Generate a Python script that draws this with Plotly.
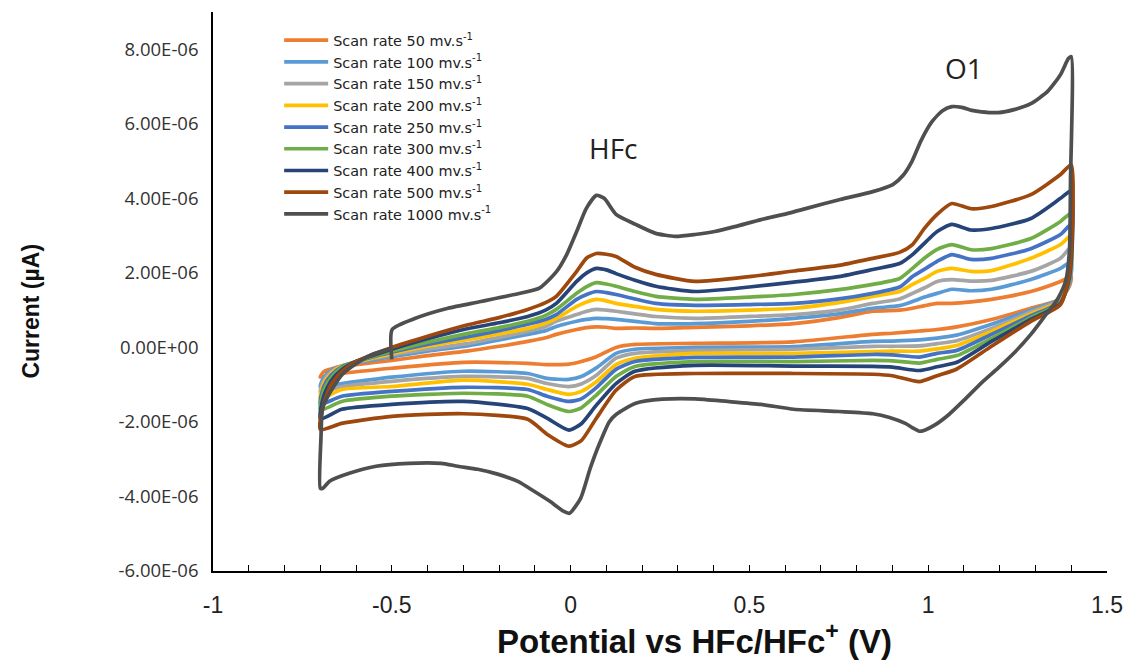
import numpy as np
import plotly.graph_objects as go

SCALE = 1e-6  # currents below are listed in units of 1e-6

# ---- scan labels and colours -------------------------------------------
RATES = [50, 100, 150, 200, 250, 300, 400, 500]
COLORS = ["#ED7D31", "#5B9BD5", "#A5A5A5", "#FFC000", "#4472C4",
          "#70AD47", "#264478", "#9E480E"]
COLOR_1000 = "#4F4F4F"

# ---- forward (anodic) sweep, -0.7 V -> 1.4 V ----------------------------
E_FWD = [-0.7, -0.69, -0.67, -0.64, -0.6, -0.5, -0.4, -0.29, -0.2, -0.12,
         -0.07, -0.04, 0.017, 0.045, 0.072, 0.1, 0.127, 0.18, 0.238, 0.348,
         0.5, 0.624, 0.75, 0.845, 0.92, 0.956, 0.99, 1.025, 1.066, 1.12,
         1.177, 1.287, 1.37, 1.4]

I_FWD_50 = [-0.8, -0.65, -0.58, -0.5, -0.46, -0.35, -0.22, -0.1, 0.03, 0.16,
            0.26, 0.35, 0.48, 0.53, 0.55, 0.54, 0.51, 0.52, 0.51, 0.54,
            0.58, 0.64, 0.8, 0.97, 1.0, 1.05, 1.12, 1.18, 1.18, 1.22,
            1.29, 1.5, 1.77, 1.9]
I_FWD_100 = [-1.05, -0.8, -0.62, -0.5, -0.42, -0.25, -0.1, 0.04, 0.2, 0.35,
             0.45, 0.56, 0.70, 0.75, 0.78, 0.77, 0.75, 0.7, 0.64, 0.64,
             0.7, 0.78, 0.9, 1.05, 1.12, 1.23, 1.35, 1.45, 1.56, 1.52,
             1.56, 1.82, 2.12, 2.3]
I_FWD_150 = [-1.2, -0.9, -0.66, -0.5, -0.4, -0.2, -0.05, 0.1, 0.27, 0.43,
             0.56, 0.70, 0.88, 0.97, 1.02, 1.0, 0.97, 0.9, 0.83, 0.78,
             0.83, 0.88, 1.0, 1.18, 1.3, 1.45, 1.6, 1.77, 1.82, 1.78,
             1.80, 2.04, 2.39, 2.7]
I_FWD_200 = [-1.38, -0.95, -0.7, -0.5, -0.39, -0.17, 0.03, 0.21, 0.36, 0.51,
             0.65, 0.78, 1.10, 1.22, 1.29, 1.25, 1.18, 1.1, 1.02, 0.97,
             1.0, 1.05, 1.2, 1.37, 1.5, 1.69, 1.85, 2.04, 2.12, 2.04,
             2.06, 2.39, 2.76, 3.0]
I_FWD_250 = [-1.52, -1.05, -0.75, -0.52, -0.38, -0.13, 0.08, 0.28, 0.45, 0.62,
             0.75, 0.88, 1.29, 1.42, 1.50, 1.47, 1.42, 1.3, 1.18, 1.13,
             1.15, 1.18, 1.3, 1.45, 1.62, 1.90, 2.1, 2.31, 2.49, 2.36,
             2.39, 2.65, 3.03, 3.3]
I_FWD_300 = [-1.68, -1.15, -0.82, -0.55, -0.38, -0.1, 0.14, 0.37, 0.53, 0.70,
             0.86, 1.02, 1.45, 1.63, 1.74, 1.7, 1.64, 1.5, 1.37, 1.29,
             1.35, 1.42, 1.55, 1.69, 1.85, 2.12, 2.4, 2.63, 2.76, 2.62,
             2.65, 2.92, 3.38, 3.6]
I_FWD_400 = [-1.92, -1.3, -0.9, -0.6, -0.38, -0.05, 0.23, 0.5, 0.66, 0.83,
             1.0, 1.18, 1.77, 2.0, 2.12, 2.08, 1.98, 1.8, 1.64, 1.50,
             1.62, 1.75, 1.9, 2.09, 2.25, 2.49, 2.8, 3.11, 3.30, 3.15,
             3.19, 3.46, 4.0, 4.2]
I_FWD_500 = [-2.2, -1.5, -1.0, -0.65, -0.38, 0.0, 0.3, 0.6, 0.8, 1.02,
             1.2, 1.37, 2.04, 2.4, 2.52, 2.5, 2.44, 2.15, 1.96, 1.77,
             1.9, 2.05, 2.2, 2.39, 2.55, 2.76, 3.2, 3.57, 3.86, 3.72,
             3.78, 4.10, 4.64, 4.9]

# ---- reverse (cathodic) sweep, 1.4 V -> -0.7 V --------------------------
E_REV = [1.395, 1.37, 1.287, 1.177, 1.08, 1.025, 0.975, 0.9, 0.845, 0.624,
         0.348, 0.18, 0.127, 0.072, 0.03, -0.005, -0.066, -0.12, -0.3, -0.5,
         -0.64, -0.7]

I_REV_50 = [1.65, 1.3, 1.05, 0.75, 0.55, 0.48, 0.44, 0.38, 0.35, 0.15,
            0.11, 0.08, 0.0, -0.25, -0.38, -0.45, -0.46, -0.43, -0.4, -0.56,
            -0.70, -0.8]
I_REV_100 = [1.7, 1.3, 1.0, 0.62, 0.33, 0.25, 0.2, 0.17, 0.16, 0.02,
             0.0, -0.05, -0.16, -0.55, -0.78, -0.86, -0.83, -0.70, -0.64, -0.80,
             -0.97, -1.05]
I_REV_150 = [1.75, 1.28, 0.95, 0.51, 0.18, 0.1, 0.04, 0.03, 0.03, -0.05,
             -0.08, -0.16, -0.29, -0.75, -0.98, -1.05, -0.97, -0.83, -0.78, -0.91,
             -1.05, -1.2]
I_REV_200 = [1.8, 1.25, 0.9, 0.43, 0.05, -0.04, -0.1, -0.1, -0.11, -0.16,
             -0.16, -0.29, -0.46, -0.92, -1.18, -1.26, -1.13, -0.99, -0.88, -1.05,
             -1.13, -1.38]
I_REV_250 = [1.8, 1.22, 0.85, 0.35, -0.08, -0.16, -0.26, -0.2, -0.19, -0.26,
             -0.27, -0.38, -0.59, -1.08, -1.38, -1.45, -1.31, -1.13, -1.07, -1.18,
             -1.31, -1.52]
I_REV_300 = [1.85, 1.2, 0.8, 0.24, -0.22, -0.32, -0.42, -0.36, -0.35, -0.38,
             -0.38, -0.51, -0.78, -1.28, -1.62, -1.72, -1.53, -1.31, -1.23, -1.31,
             -1.45, -1.68]
I_REV_400 = [1.9, 1.18, 0.75, 0.16, -0.4, -0.52, -0.62, -0.53, -0.51, -0.5,
             -0.48, -0.64, -0.97, -1.55, -2.05, -2.22, -1.90, -1.64, -1.45, -1.53,
             -1.66, -1.92]
I_REV_500 = [2.0, 1.15, 0.70, 0.03, -0.58, -0.76, -0.92, -0.76, -0.72, -0.70,
             -0.70, -0.78, -1.15, -1.9, -2.5, -2.65, -2.33, -1.93, -1.78, -1.85,
             -2.04, -2.2]

I_FWD = [I_FWD_50, I_FWD_100, I_FWD_150, I_FWD_200,
         I_FWD_250, I_FWD_300, I_FWD_400, I_FWD_500]
I_REV = [I_REV_50, I_REV_100, I_REV_150, I_REV_200,
         I_REV_250, I_REV_300, I_REV_400, I_REV_500]

# ---- 1000 mV/s scan, recorded as one continuous trace from -0.5 V --------
E_1000 = [-0.5, -0.499, -0.434, -0.343, -0.251, -0.157, -0.086, -0.039, -0.011,
          0.017, 0.044, 0.072, 0.094, 0.127, 0.182, 0.238, 0.293, 0.348, 0.403,
          0.459, 0.533, 0.605, 0.66, 0.754, 0.845, 0.901, 0.93, 0.955, 0.98,
          1.01, 1.04, 1.066, 1.094, 1.122, 1.149, 1.196, 1.24, 1.287, 1.334,
          1.37, 1.392, 1.4,
          1.398, 1.395, 1.385, 1.362, 1.323, 1.287, 1.24, 1.196, 1.149, 1.102,
          1.058, 1.019, 0.99, 0.975, 0.955, 0.936, 0.892, 0.845, 0.75, 0.624,
          0.533, 0.439, 0.348, 0.257, 0.182, 0.127, 0.108, 0.08, 0.055, 0.028,
          -0.003, -0.019, -0.058, -0.102, -0.149, -0.204, -0.26, -0.315, -0.362,
          -0.453, -0.544, -0.619, -0.674, -0.693, -0.7,
          -0.698, -0.694, -0.682, -0.666, -0.638, -0.599, -0.555, -0.502]
I_1000 = [-0.32, 0.48, 0.78, 1.05, 1.23, 1.42, 1.6, 2.04, 2.49,
          3.11, 3.73, 4.08, 4.0, 3.57, 3.3, 3.06, 2.98, 3.03, 3.11,
          3.24, 3.43, 3.59, 3.73, 3.97, 4.18, 4.37, 4.62, 5.0, 5.55,
          6.05, 6.35, 6.46, 6.44, 6.36, 6.32, 6.30, 6.38, 6.54, 6.87,
          7.32, 7.75, 7.8,
          4.5, 2.6, 1.8, 1.3, 0.8, 0.35, -0.15, -0.55, -0.95, -1.4,
          -1.8, -2.08, -2.22, -2.25, -2.15, -2.04, -1.88, -1.78, -1.72, -1.66,
          -1.53, -1.45, -1.38, -1.39, -1.5, -1.8, -2.0, -2.6, -3.24, -4.05,
          -4.45, -4.4, -4.13, -3.86, -3.59, -3.4, -3.27, -3.19, -3.11,
          -3.11, -3.19, -3.38, -3.59, -3.78, -3.78,
          -2.4, -1.64, -1.37, -1.1, -0.72, -0.43, -0.19, -0.03]

# ---- axis ticks ----------------------------------------------------------
X_TICKS = [-1, -0.5, 0, 0.5, 1, 1.5]
X_TICK_TEXT = ["-1", "-0.5", "0", "0.5", "1", "1.5"]
Y_TICKS = [-6, -4, -2, 0, 2, 4, 6, 8]
Y_TICK_TEXT = ["-6.00E-06", "-4.00E-06", "-2.00E-06", "0.00E+00",
               "2.00E-06", "4.00E-06", "6.00E-06", "8.00E-06"]

LINE_W = 3.7
fig = go.Figure()

for rate, color, fwd, rev in zip(RATES, COLORS, I_FWD, I_REV):
    e = E_FWD + E_REV
    i = np.array(fwd + rev) * SCALE
    fig.add_trace(go.Scatter(
        x=e, y=i, mode="lines",
        line=dict(color=color, width=LINE_W, shape="spline", smoothing=0.6),
        name=f"Scan rate {rate} mv.s<sup>-1</sup>",
        legendgroup=str(rate),
    ))

fig.add_trace(go.Scatter(
    x=E_1000, y=np.array(I_1000) * SCALE, mode="lines",
    line=dict(color=COLOR_1000, width=LINE_W, shape="spline", smoothing=0.6),
    name="Scan rate 1000 mv.s<sup>-1</sup>",
    legendgroup="1000",
))

fig.add_annotation(x=0.12, y=5.35 * SCALE, text="HFc", showarrow=False,
                   font=dict(family="Open Sans", size=28, color="#222222"))
fig.add_annotation(x=1.1, y=7.5 * SCALE, text="O1", showarrow=False,
                   font=dict(family="Open Sans", size=28, color="#222222"))

# axis titles
fig.add_annotation(xref="paper", yref="paper", x=0.539, y=-0.1216,
                   xanchor="center", yanchor="middle",
                   text="Potential vs HFc/HFc<sup>+</sup> (V)", showarrow=False,
                   font=dict(family="Liberation Sans", size=33,
                             color="#111111", weight="bold"))
fig.add_annotation(xref="paper", yref="paper", x=-0.203, y=0.465,
                   xanchor="center", yanchor="middle",
                   text="Current (µA)", showarrow=False, textangle=-90,
                   font=dict(family="Liberation Sans", size=23,
                             color="#111111", weight="bold"))

fig.update_layout(
    width=1135, height=661,
    margin=dict(l=213, r=18, t=12, b=90),
    paper_bgcolor="white", plot_bgcolor="white",
    showlegend=True,
    legend=dict(
        x=0.074, y=0.978, xanchor="left", yanchor="top",
        bgcolor="rgba(0,0,0,0)", borderwidth=0,
        font=dict(family="DejaVu Sans", size=14.4, color="#222222"),
        tracegroupgap=0, itemwidth=44,
    ),
)

fig.update_xaxes(
    range=[-1, 1.5], tickmode="array", tickvals=X_TICKS, ticktext=X_TICK_TEXT,
    showline=True, linecolor="black", linewidth=1.6,
    ticks="inside", ticklen=6, tickwidth=1.2, tickcolor="black",
    minor=dict(tickmode="linear", tick0=-1, dtick=0.1, ticks="inside",
               ticklen=6, tickwidth=1.2, tickcolor="black"),
    showgrid=False, zeroline=False,
    tickfont=dict(family="Liberation Sans", size=23, color="#222222"),
    ticklabelstandoff=13,
)
fig.update_yaxes(
    range=[-6e-6, 9e-6],
    tickvals=[v * SCALE for v in Y_TICKS], ticktext=Y_TICK_TEXT,
    showline=True, linecolor="black", linewidth=1.6,
    ticks="", showgrid=False, zeroline=False,
    tickfont=dict(family="Open Sans", size=18.5, color="#333333"),
    ticklabelstandoff=9,
)

fig.write_html("out.html")
